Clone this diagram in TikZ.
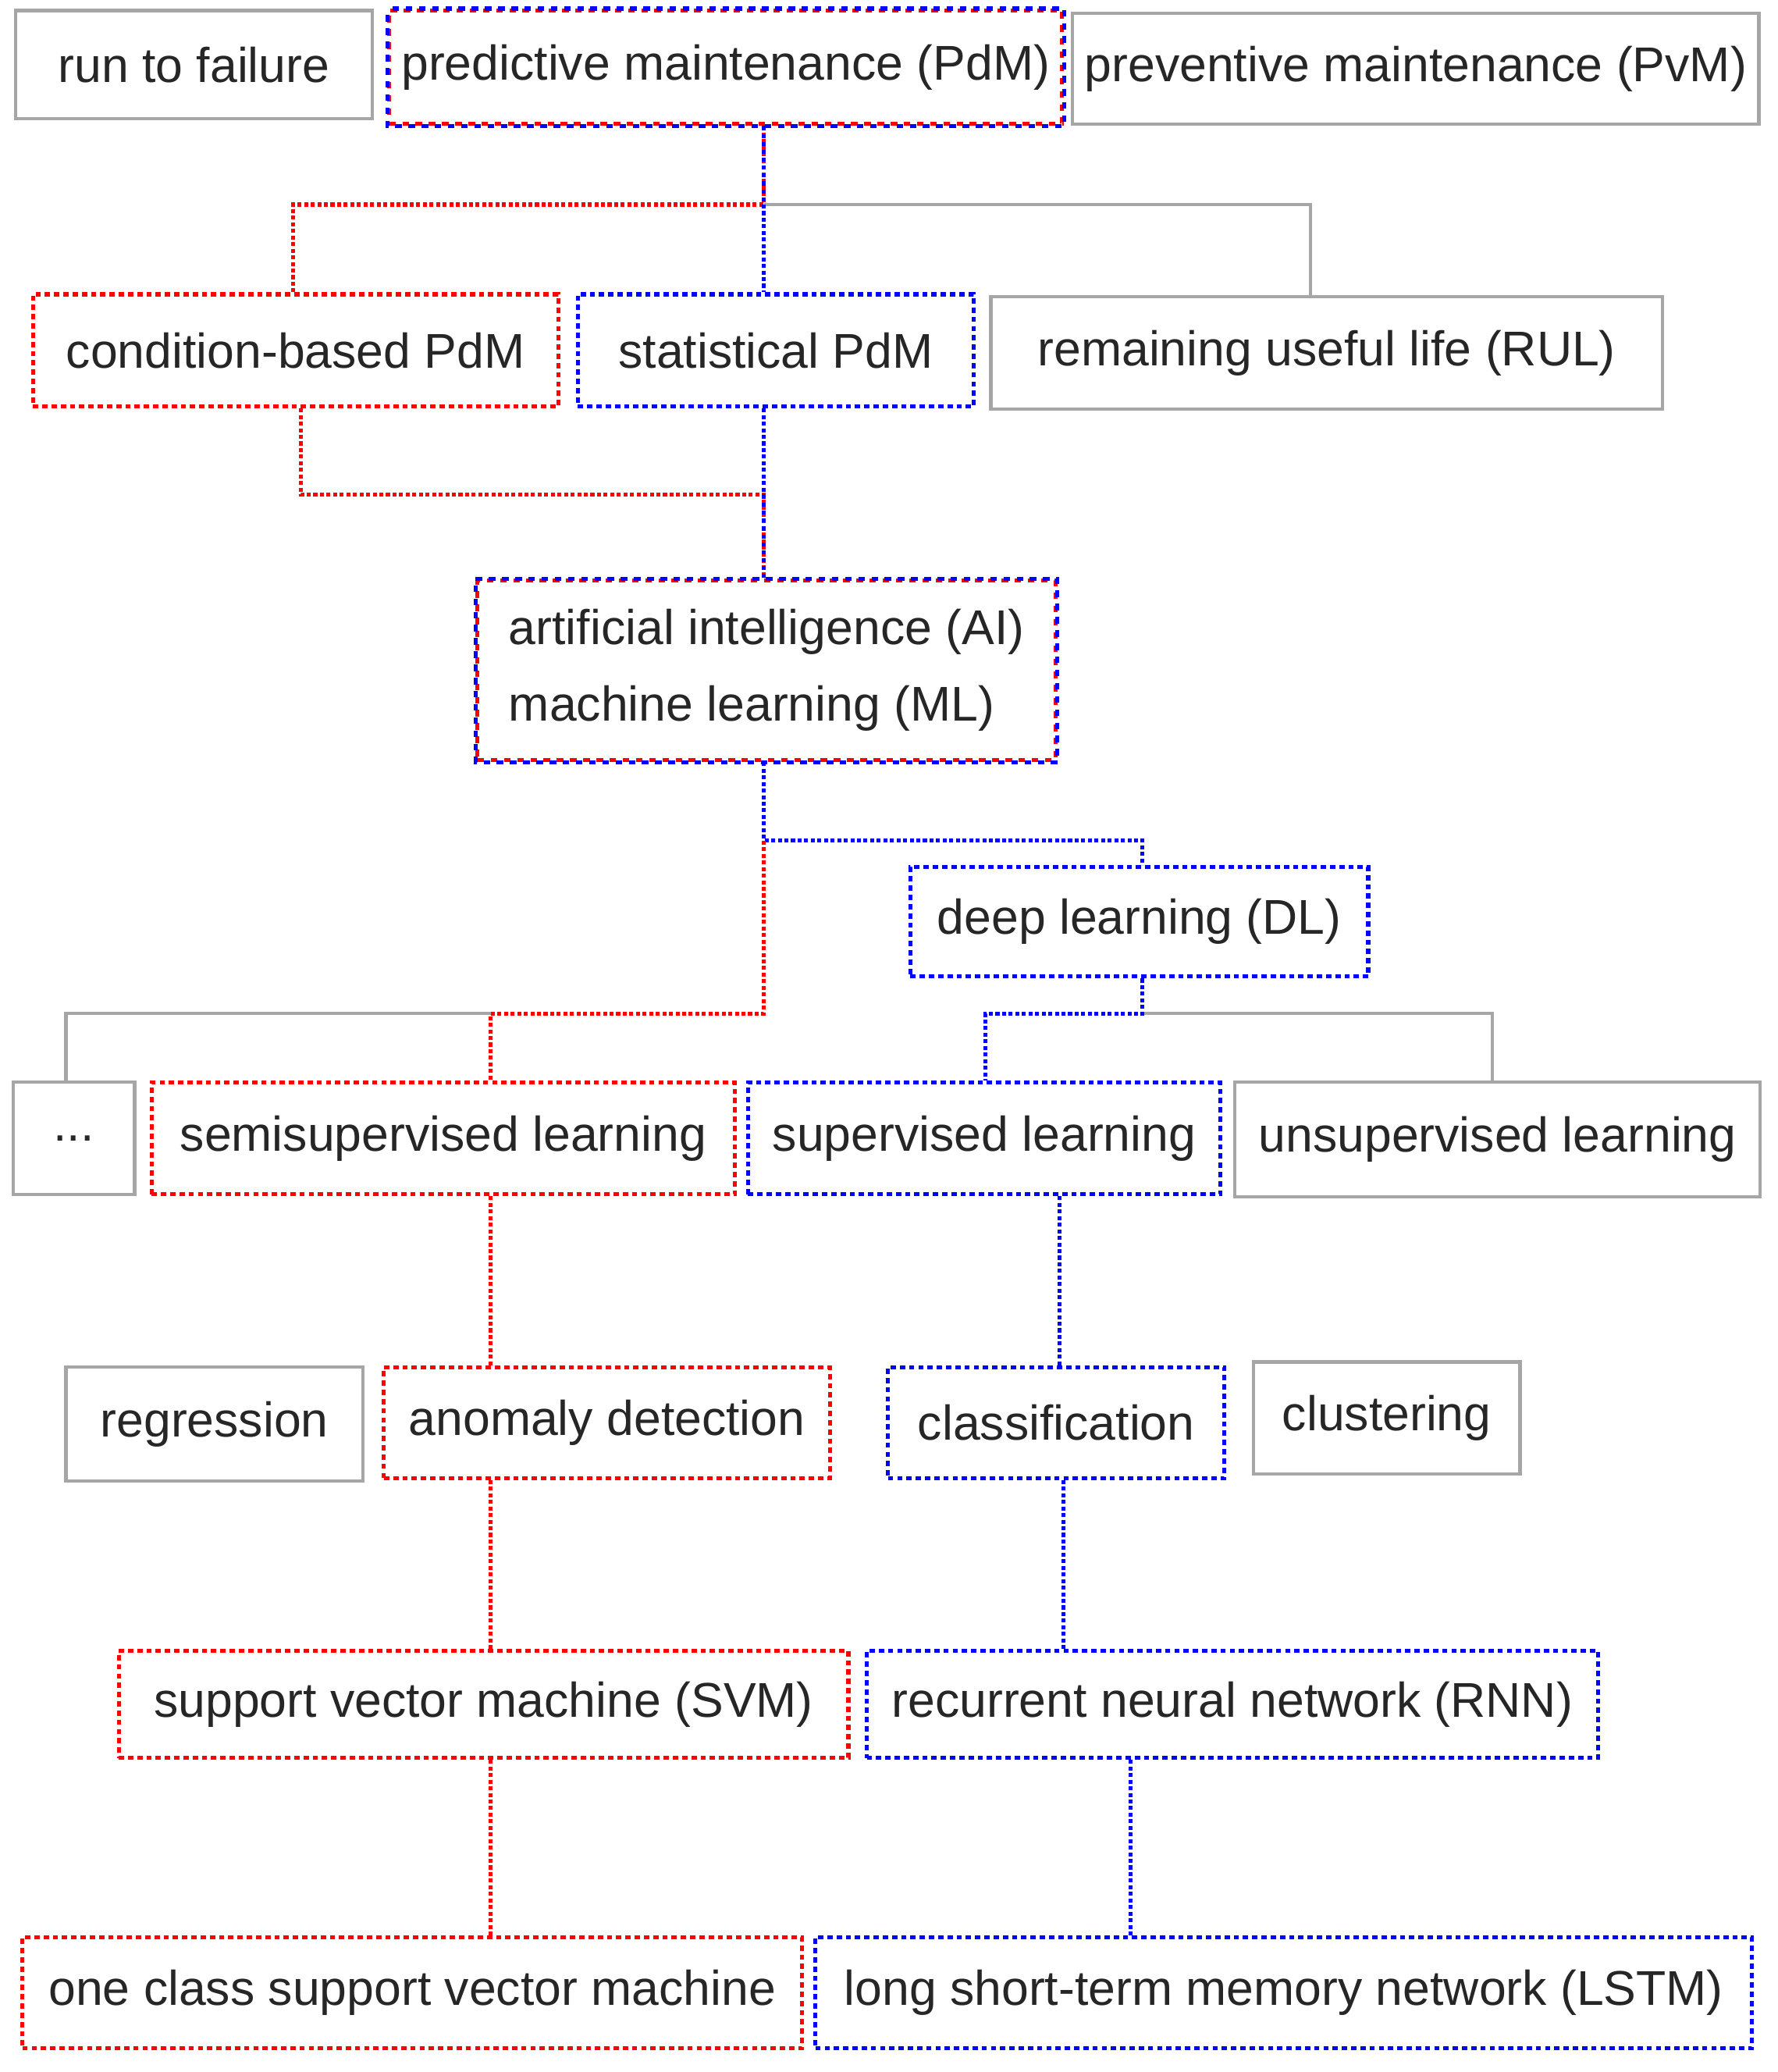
\documentclass[tikz,border=0pt]{standalone}
\usepackage{fontspec}
\setmainfont{Liberation Sans}
\begin{document}
\begin{tikzpicture}[x=1pt,y=-1pt,
  gb/.style={draw=gray!70,line width=2.5pt},
  rb/.style={draw=red,line width=3pt,dash pattern=on 4pt off 3pt},
  bb/.style={draw=blue,line width=3pt,dash pattern=on 4pt off 3pt},
  rl/.style={draw=red,line width=3pt,dash pattern=on 3pt off 2pt},
  bl/.style={draw=blue,line width=3pt,dash pattern=on 3pt off 2pt},
  gl/.style={draw=gray!70,line width=2.5pt},
  txt/.style={font=\fontsize{37}{58}\selectfont,text=black!85}]
\useasboundingbox (0,0) rectangle (1347,1570);
\newcommand\bx[7]{%
  \node[#6,inner sep=0pt,minimum width={#4-#2},minimum height={#5-#3},txt] (#1) at ({(#2+#4)/2},{(#3+#5)/2}) {#7};}
\newcommand\mx[6]{%
  \node[draw=red,line width=3pt,dash pattern=on 5pt off 5pt,inner sep=0pt,minimum width={#4-#2},minimum height={#5-#3},txt,align=left] (#1) at ({(#2+#4)/2},{(#3+#5)/2}) {#6};
  \draw[blue,line width=3pt,dash pattern=on 5pt off 5pt,dash phase=5pt] (#1.north west) rectangle (#1.south east);}
\bx{rtf}{12}{8}{282}{90}{gb}{run to failure}
\mx{pdm}{295}{8}{805}{94}{predictive maintenance (PdM)}
\bx{pvm}{813}{10}{1333}{94}{gb}{preventive maintenance (PvM)}
\bx{cb}{25}{223}{423}{308}{rb}{condition-based PdM}
\bx{st}{438}{223}{738}{308}{bb}{statistical PdM}
\bx{rul}{751}{225}{1260}{310}{gb}{remaining useful life (RUL)}
\mx{ai}{362}{440}{800}{576}{artificial intelligence (AI)\\machine learning (ML)}
\bx{dl}{690}{657}{1037}{740}{bb}{deep learning (DL)}
\bx{dots}{10}{820}{102}{905}{gb}{...}
\bx{semi}{115}{820}{557}{905}{rb}{semisupervised learning}
\bx{sup}{567}{820}{925}{905}{bb}{supervised learning}
\bx{uns}{936}{820}{1334}{907}{gb}{unsupervised learning}
\bx{reg}{50}{1036}{275}{1122}{gb}{regression}
\bx{ano}{291}{1036}{629}{1120}{rb}{anomaly detection}
\bx{cls}{673}{1036}{928}{1120}{bb}{classification}
\bx{clu}{950}{1032}{1152}{1117}{gb}{clustering}
\bx{svm}{90}{1251}{643}{1332}{rb}{support vector machine (SVM)}
\bx{rnn}{657}{1251}{1211}{1332}{bb}{recurrent neural network (RNN)}
\bx{oc}{17}{1468}{608}{1552}{rb}{one class support vector machine}
\bx{lstm}{618}{1468}{1328}{1552}{bb}{long short-term memory network (LSTM)}
% connectors
\coordinate (j1) at (579,155);
\draw[gl] (j1) -| (rul.north -| 993,0);
\draw[rl] (pdm.south -| j1) -- (j1) -| (cb.north -| 222,0);
\draw[blue,line width=3pt,dash pattern=on 3pt off 3pt] (pdm.south -| j1) -- (j1);
\draw[bl] (j1) -- (st.north -| j1);
\coordinate (j2) at (579,375);
\draw[rl] (cb.south -| 228,0) |- (j2) -- (ai.north -| j2);
\draw[blue,line width=3pt,dash pattern=on 3pt off 3pt] (j2) -- (ai.north -| j2);
\draw[bl] (st.south -| j2) -- (j2);
\coordinate (j3) at (579,637);
\coordinate (j4) at (579,768);
\draw[gl] (372,768) -| (dots.north -| 50,0);
\draw[gl] (866,768) -| (uns.north -| 1131,0);
\draw[rl] (ai.south -| j3) -- (j3);
\draw[bl] (ai.south -| j3) -- (j3) -| (dl.north -| 866,0);
\draw[rl] (j3) -- (j4) -| (semi.north -| 372,0);
\draw[bl] (dl.south -| 866,0) |- (747,768) -- (sup.north -| 747,0);
\draw[rl] (semi.south -| 372,0) -- (ano.north -| 372,0);
\draw[bl] (sup.south -| 803,0) -- (cls.north -| 803,0);
\draw[rl] (ano.south -| 372,0) -- (svm.north -| 372,0);
\draw[bl] (cls.south -| 806,0) -- (rnn.north -| 806,0);
\draw[rl] (svm.south -| 372,0) -- (oc.north -| 372,0);
\draw[bl] (rnn.south -| 857,0) -- (lstm.north -| 857,0);
\end{tikzpicture}
\end{document}
